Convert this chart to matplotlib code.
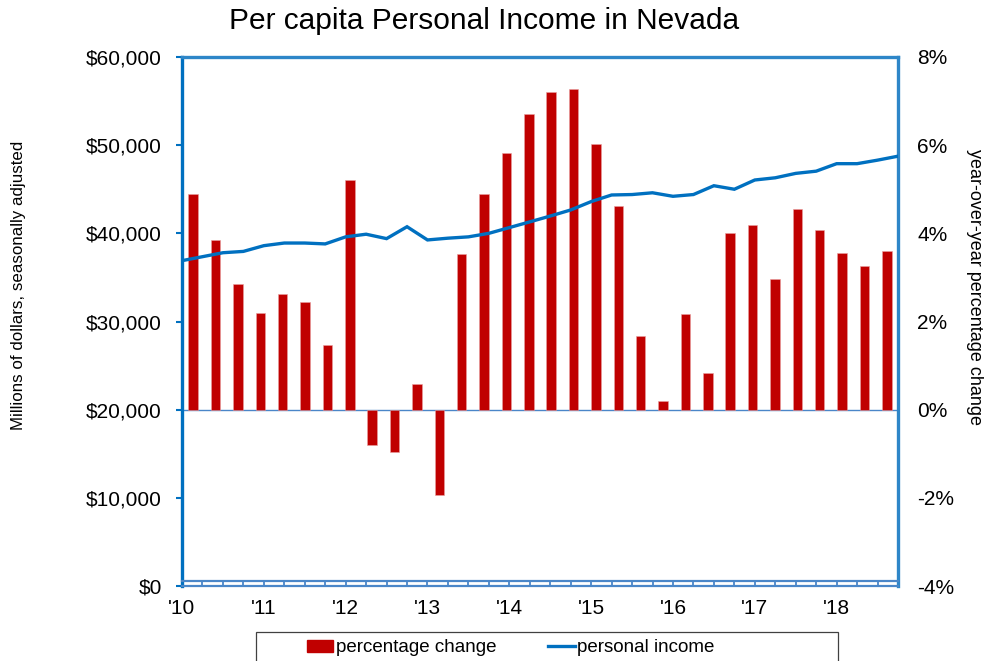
import matplotlib
matplotlib.use("Agg")
import matplotlib.pyplot as plt
from matplotlib.patches import Rectangle
from matplotlib.ticker import FuncFormatter, MultipleLocator
import numpy as np

plt.rcParams['font.family'] = ['Liberation Sans', 'DejaVu Sans']

# ---- data ----
year_labels = ["'10", "'11", "'12", "'13", "'14", "'15", "'16", "'17", "'18"]
# quarterly per capita personal income, 2010Q1..2018Q4
income = [36900, 37350, 37800, 37950, 38600, 38900, 38900, 38800,
          39600, 39900, 39400, 40750, 39250, 39450, 39600, 40000,
          40650, 41300, 41960, 42650, 43600, 44350, 44400, 44600,
          44200, 44400, 45400, 45000, 46050, 46300, 46800, 47050,
          47900, 47900, 48300, 48750]
# year-over-year percentage change, 32 quarters
pct_change = [4.90, 3.86, 2.84, 2.19, 2.63, 2.44, 1.47, 5.22,
              -0.81, -0.95, 0.59, -1.93, 3.54, 4.90, 5.82, 6.71,
              7.21, 7.28, 6.03, 4.61, 1.66, 0.19, 2.17, 0.83,
              4.01, 4.20, 2.96, 4.55, 4.07, 3.55, 3.27, 3.61]

RED = '#C00000'
BLUE = '#0070C0'
FRAME = '#2E86C8'
AXBLUE = '#4A86C8'

fig = plt.figure(figsize=(9.87, 6.61), dpi=100)
W, H = 987, 661
rect = [182 / W, 1 - 586 / H, 716 / W, 529 / H]

# bars axis (right y-axis)
axb = fig.add_axes(rect)
nb = len(pct_change)
xb = np.arange(nb)
axb.bar(xb, pct_change, width=0.42, color=RED, edgecolor='#E8A0A0', linewidth=0.4, zorder=3)
axb.set_xlim(-0.5, nb - 0.5)
axb.set_ylim(-4, 8)
axb.axhline(0, color=AXBLUE, lw=1.0, zorder=2)
axb.yaxis.tick_right()
axb.yaxis.set_major_locator(MultipleLocator(2))
axb.yaxis.set_major_formatter(FuncFormatter(lambda v, p: f"{v:.0f}%"))
axb.tick_params(axis='y', length=0, pad=14, labelsize=15)
axb.set_xticks([])
for s in axb.spines.values():
    s.set_visible(False)

# line axis (left y-axis, bottom x-axis)
ax = fig.add_axes(rect, facecolor='none')
xi = np.arange(len(income))
ax.plot(xi, income, color=BLUE, lw=2.4, zorder=5, solid_joinstyle='miter')
ax.set_xlim(0, len(income) - 1)
ax.set_ylim(0, 60000)
ax.yaxis.set_major_locator(MultipleLocator(10000))
ax.yaxis.set_major_formatter(FuncFormatter(lambda v, p: f"${v:,.0f}"))
ax.tick_params(axis='y', length=4.5, width=1.5, color=BLUE, pad=10, labelsize=15,
               direction='out')
ax.set_xticks(xi[::4])
ax.set_xticklabels(year_labels)
ax.set_xticks(xi, minor=True)
ax.tick_params(axis='x', which='both', length=3.8, width=1.3, color=AXBLUE,
               direction='in', pad=9, labelsize=15)

ax.spines['left'].set_color(BLUE)
ax.spines['left'].set_linewidth(2.4)
ax.spines['top'].set_color(FRAME)
ax.spines['top'].set_linewidth(2.4)
ax.spines['right'].set_color(FRAME)
ax.spines['right'].set_linewidth(2.4)
ax.spines['bottom'].set_color(AXBLUE)
ax.spines['bottom'].set_linewidth(1.6)
ax.plot([0, 1], [5.3 / 529, 5.3 / 529], transform=ax.transAxes, color=AXBLUE,
        lw=1.6, clip_on=False, zorder=6)

fig.text(0.49, 1 - 21 / H, 'Per capita Personal Income in Nevada', fontsize=21.5,
         ha='center', va='center')
fig.text(19 / W, 1 - 285 / H, 'Millions of dollars, seasonally adjusted', fontsize=12.2,
         rotation=90, ha='center', va='center')
fig.text(975 / W, 1 - 287 / H, 'year-over-year percentage change', fontsize=13,
         rotation=-90, ha='center', va='center')

# legend
h_bar = Rectangle((0, 0), 1, 1, color=RED)
h_line, = ax.plot([], [], color=BLUE, lw=2.4)
fig.legend([h_bar, h_line], ['percentage change', 'personal income'], ncol=2,
           loc='center', bbox_to_anchor=(511 / W, 1 - 648 / H), frameon=False,
           fontsize=13.5, handlelength=1.4, handleheight=0.55, handletextpad=0.15,
           columnspacing=2.75)
fig.patches.append(Rectangle((256 / W, -0.05), (838 - 256) / W, 0.05 + (661 - 632) / H,
                             transform=fig.transFigure, fill=False,
                             edgecolor='#404040', lw=0.9))

fig.savefig('out.png', dpi=100)
